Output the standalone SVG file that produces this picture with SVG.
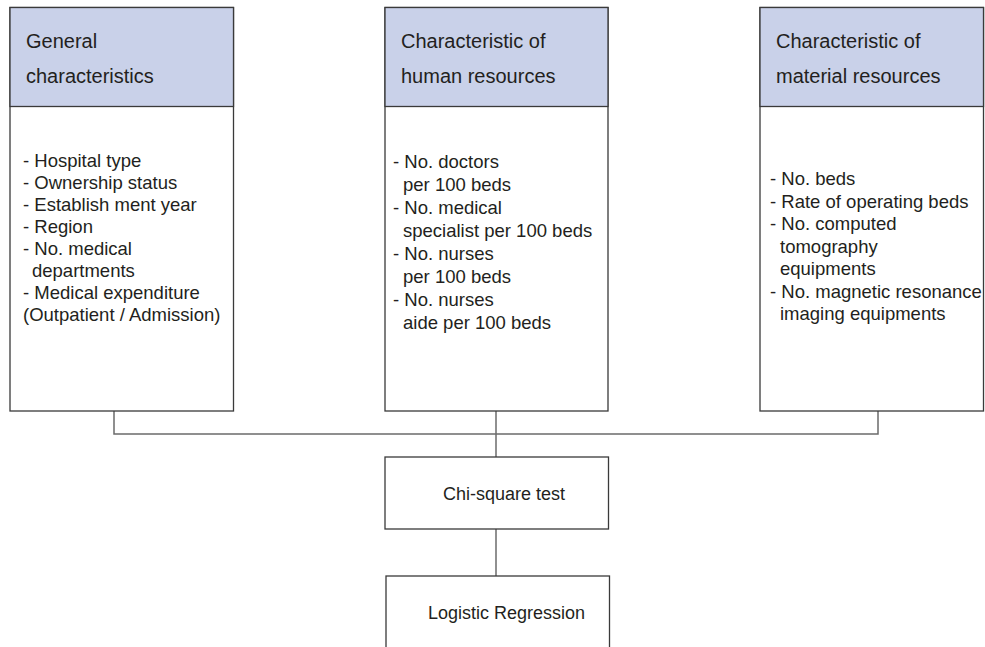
<svg xmlns="http://www.w3.org/2000/svg" width="985" height="647" viewBox="0 0 985 647">
<style>
.box{fill:#ffffff;stroke:#3a3a3a;stroke-width:1.3}
.head{fill:#c9d1e9;stroke:#3a3a3a;stroke-width:1.3}
.conn{fill:none;stroke:#6b6b6b;stroke-width:1.5}
.ht{font-family:"Liberation Sans",Arial,sans-serif;font-size:20px;fill:#231f20}
.bt{font-family:"Liberation Sans",Arial,sans-serif;font-size:18.5px;fill:#231f20}
.ct{font-family:"Liberation Sans",Arial,sans-serif;font-size:18px;fill:#231f20}
</style>
<rect width="985" height="647" fill="#ffffff"/>
<g id="connectors">
<path class="conn" d="M114,411 V434 H878 V411"/>
<path class="conn" d="M496,411 V457"/>
<path class="conn" d="M496,529 V576"/>
</g>
<g id="general">
<rect class="box" x="10" y="7.5" width="223.5" height="403.5"/>
<rect class="head" x="10" y="7.5" width="223.5" height="99"/>
<text class="ht"><tspan x="26" y="48">General</tspan><tspan x="26" y="83">characteristics</tspan></text>
<text class="bt">
<tspan x="23" y="167">- Hospital type</tspan>
<tspan x="23" y="189">- Ownership status</tspan>
<tspan x="23" y="211">- Establish ment year</tspan>
<tspan x="23" y="233">- Region</tspan>
<tspan x="23" y="255">- No. medical</tspan>
<tspan x="32" y="277">departments</tspan>
<tspan x="23" y="299">- Medical expenditure</tspan>
<tspan x="23" y="321">(Outpatient / Admission)</tspan>
</text>
</g>
<g id="human">
<rect class="box" x="385" y="7.5" width="223" height="403.5"/>
<rect class="head" x="385" y="7.5" width="223" height="99"/>
<text class="ht"><tspan x="401" y="48">Characteristic of</tspan><tspan x="401" y="83">human resources</tspan></text>
<text class="bt">
<tspan x="393" y="168">- No. doctors</tspan>
<tspan x="403" y="191">per 100 beds</tspan>
<tspan x="393" y="214">- No. medical</tspan>
<tspan x="403" y="237">specialist per 100 beds</tspan>
<tspan x="393" y="260">- No. nurses</tspan>
<tspan x="403" y="283">per 100 beds</tspan>
<tspan x="393" y="306">- No. nurses</tspan>
<tspan x="403" y="329">aide per 100 beds</tspan>
</text>
</g>
<g id="material">
<rect class="box" x="760" y="7.5" width="223.5" height="403.5"/>
<rect class="head" x="760" y="7.5" width="223.5" height="99"/>
<text class="ht"><tspan x="776" y="48">Characteristic of</tspan><tspan x="776" y="83">material resources</tspan></text>
<text class="bt">
<tspan x="770" y="185">- No. beds</tspan>
<tspan x="770" y="208">- Rate of operating beds</tspan>
<tspan x="770" y="230">- No. computed</tspan>
<tspan x="780" y="253">tomography</tspan>
<tspan x="780" y="275">equipments</tspan>
<tspan x="770" y="298">- No. magnetic resonance</tspan>
<tspan x="780" y="320">imaging equipments</tspan>
</text>
</g>
<g id="chisquare">
<rect class="box" x="385" y="457" width="223.5" height="72"/>
<text class="ct" x="443" y="500">Chi-square test</text>
</g>
<g id="logistic">
<rect class="box" x="386" y="576" width="223.5" height="80"/>
<text class="ct" x="428" y="619">Logistic Regression</text>
</g>
</svg>
